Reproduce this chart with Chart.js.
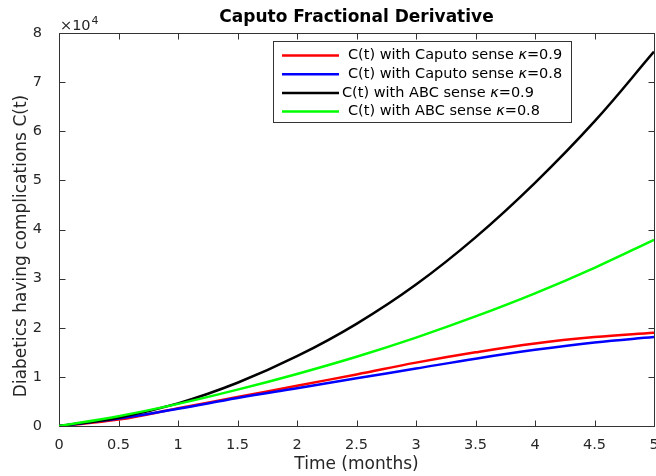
<!DOCTYPE html>
<html>
<head>
<meta charset="utf-8">
<title>Caputo Fractional Derivative</title>
<script src="https://cdn.jsdelivr.net/npm/chart.js@4.4.1/dist/chart.umd.min.js"></script>
<style>
  html, body { margin: 0; padding: 0; background: #fff; }
  canvas { display: block; }
</style>
</head>
<body>
<canvas id="chart" width="656" height="476"></canvas>
<script>
// time in months
const timeMonths = [0, 0.5, 1, 1.5, 2, 2.5, 3, 3.5, 4, 4.5, 5];

// C(t)
const caputo09 = [0, 1300, 3600, 5900, 8200, 10500, 12900, 15000, 16800, 18100, 19000];
const caputo08 = [0, 1500, 3500, 5700, 7700, 9700, 11700, 13700, 15500, 17000, 18100];
const abc09 = [0, 1700, 4600, 8800, 14200, 20800, 28800, 38400, 49500, 62000, 76200];
const abc08 = [0, 2000, 4500, 7400, 10600, 14100, 18000, 22300, 27000, 32200, 37900];

const xTickLabels = ['0', '0.5', '1', '1.5', '2', '2.5', '3', '3.5', '4', '4.5', '5'];
const yTickLabels = ['0', '1', '2', '3', '4', '5', '6', '7', '8'];

const seriesNames = ['C(t) with Caputo sense ', 'C(t) with Caputo sense ', 'C(t) with ABC sense ', 'C(t) with ABC sense '];
const kappaValues = ['=0.9', '=0.8', '=0.9', '=0.8'];

const FONT = '"DejaVu Sans", "Liberation Sans", sans-serif';
const colors = ['#ff0000', '#0000ff', '#000000', '#00ff00'];

function points(ys) {
  return timeMonths.map((t, i) => ({ x: t, y: ys[i] }));
}

// box + inward ticks, like the matlab axes
const frame = {
  id: 'frame',
  beforeDatasetsDraw(chart) {
    const { ctx, chartArea: a, scales: { x, y } } = chart;
    const L = Math.round(a.left) + 0.5, R = Math.round(a.right) + 0.5;
    const T = Math.round(a.top) + 0.5, B = Math.round(a.bottom) + 0.5;
    ctx.save();
    ctx.strokeStyle = '#333333';
    ctx.lineWidth = 1;
    ctx.beginPath();
    ctx.rect(L, T, R - L, B - T);
    x.ticks.forEach(t => {
      const px = Math.round(x.getPixelForValue(t.value)) + 0.5;
      ctx.moveTo(px, B); ctx.lineTo(px, B - 6);
      ctx.moveTo(px, T); ctx.lineTo(px, T + 6);
    });
    y.ticks.forEach(t => {
      const py = Math.round(y.getPixelForValue(t.value)) + 0.5;
      ctx.moveTo(L, py); ctx.lineTo(L + 6, py);
      ctx.moveTo(R, py); ctx.lineTo(R - 6, py);
    });
    ctx.stroke();
    ctx.restore();
  }
};

// title, y label, x10^4 multiplier, legend box
const overlay = {
  id: 'overlay',
  afterDraw(chart) {
    const { ctx, chartArea: a } = chart;
    ctx.save();

    ctx.fillStyle = '#000';
    ctx.font = 'bold 17px ' + FONT;
    ctx.textAlign = 'center';
    ctx.textBaseline = 'middle';
    ctx.fillText('Caputo Fractional Derivative', (a.left + a.right) / 2, 18);

    ctx.save();
    ctx.fillStyle = '#262626';
    ctx.font = '17px ' + FONT;
    ctx.translate(22, 246);
    ctx.rotate(-Math.PI / 2);
    ctx.fillText('Diabetics having complications C(t)', 0, 0);
    ctx.restore();

    ctx.fillStyle = '#262626';
    ctx.textAlign = 'left';
    ctx.textBaseline = 'alphabetic';
    ctx.font = '14.5px ' + FONT;
    ctx.fillText('\u00d710', a.left + 1, 30);
    const w10 = ctx.measureText('\u00d710').width;
    ctx.font = '11px ' + FONT;
    ctx.fillText('4', a.left + 2 + w10, 24);

    // legend
    const bx = 273.5, by = 41.5, bw = 298, bh = 81;
    ctx.fillStyle = '#fff';
    ctx.fillRect(bx, by, bw, bh);
    ctx.strokeStyle = '#333333';
    ctx.lineWidth = 1;
    ctx.strokeRect(bx, by, bw, bh);

    ctx.textBaseline = 'middle';
    seriesNames.forEach((name, i) => {
      const ry = 55.5 + i * 18.7;
      ctx.strokeStyle = colors[i];
      ctx.lineWidth = 2.5;
      ctx.beginPath();
      ctx.moveTo(282, ry);
      ctx.lineTo(339, ry);
      ctx.stroke();

      let tx = i === 2 ? 342 : 348;
      ctx.fillStyle = '#000';
      ctx.font = '14.5px ' + FONT;
      ctx.fillText(name, tx, ry);
      tx += ctx.measureText(name).width;
      ctx.font = 'italic 14.5px ' + FONT;
      ctx.fillText('\u03ba', tx, ry);
      tx += ctx.measureText('\u03ba').width;
      ctx.font = '14.5px ' + FONT;
      ctx.fillText(kappaValues[i], tx, ry);
    });

    ctx.restore();
  }
};

const series = [caputo09, caputo08, abc09, abc08];

new Chart(document.getElementById('chart'), {
  type: 'line',
  data: {
    datasets: series.map((ys, i) => ({
      label: seriesNames[i] + '\u03ba' + kappaValues[i],
      data: points(ys),
      borderColor: colors[i],
      backgroundColor: colors[i],
      borderWidth: 2.5,
      pointRadius: 0,
      fill: false,
      tension: 0.4,
      order: 4 - i
    }))
  },
  options: {
    responsive: false,
    animation: false,
    layout: { padding: { top: 33, right: 2, left: 0, bottom: 0 } },
    plugins: {
      legend: { display: false },
      tooltip: { enabled: false },
      title: { display: false }
    },
    scales: {
      x: {
        type: 'linear',
        min: 0,
        max: 5,
        grid: { display: false },
        border: { display: false },
        ticks: {
          stepSize: 0.5,
          autoSkip: false,
          maxRotation: 0,
          padding: 3,
          color: '#262626',
          font: { family: FONT, size: 14.5 },
          callback: (v, i) => xTickLabels[i]
        },
        title: {
          display: true,
          text: 'Time (months)',
          color: '#262626',
          font: { family: FONT, size: 17 },
          padding: 1
        },
        afterFit(s) {
          s.height = 50;
          s.paddingLeft = 0;
          s.paddingRight = 0;
        }
      },
      y: {
        min: 0,
        max: 80000,
        grid: { display: false },
        border: { display: false },
        ticks: {
          stepSize: 10000,
          padding: 9,
          color: '#262626',
          font: { family: FONT, size: 14.5 },
          callback: (v, i) => yTickLabels[i]
        },
        afterFit(s) {
          s.width = 59;
        }
      }
    }
  },
  plugins: [frame, overlay]
});
</script>
</body>
</html>
